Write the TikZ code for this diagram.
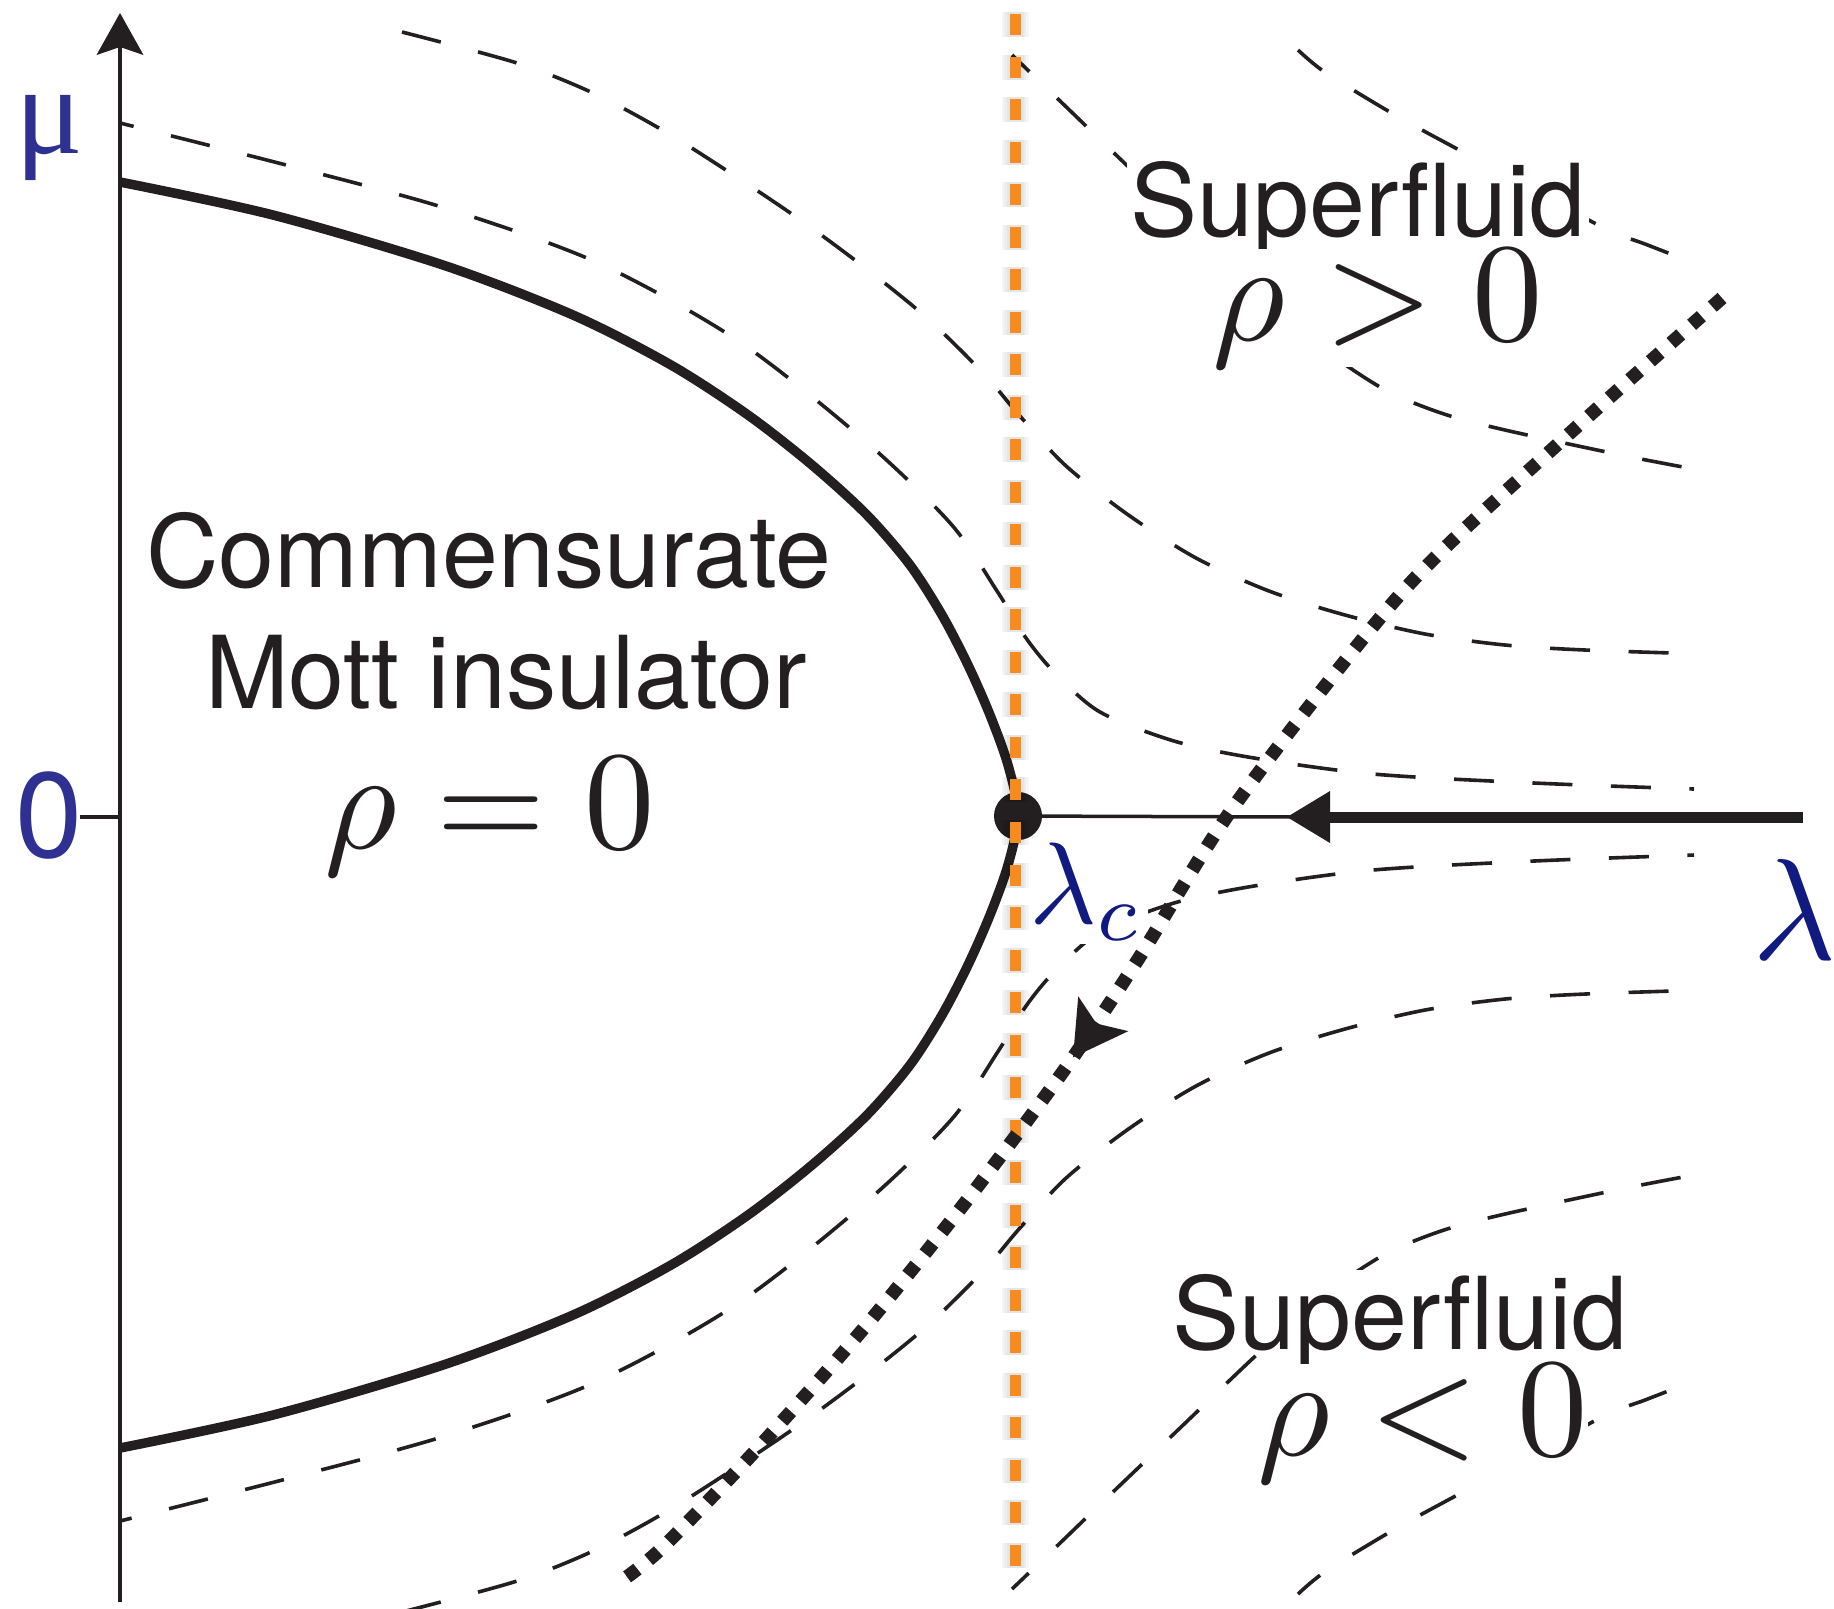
\documentclass[tikz,border=0pt]{standalone}
\usepackage{graphicx}
\usepackage{fontspec}
\newfontfamily\herosfont{TeX Gyre Heros}[Ligatures=NoCommon]
\newfontfamily\greekserif{Liberation Serif}
\usetikzlibrary{arrows.meta,decorations.markings}
\definecolor{inkblack}{RGB}{35,31,32}
\definecolor{axisblue}{RGB}{46,49,146}
\definecolor{lamblue}{RGB}{16,26,128}
\definecolor{mottorange}{RGB}{247,139,31}
\tikzset{
  flowline/.style={draw=inkblack, line width=0.036cm, dash pattern=on 0.40cm off 0.385cm},
  bndline/.style={draw=inkblack, line width=0.095cm},
  thinline/.style={draw=inkblack, line width=0.035cm},
  sflabel/.style={font=\herosfont\fontsize{28.6pt}{30pt}\selectfont, text=inkblack, inner sep=1pt, anchor=base},
  mathlabel/.style={text=inkblack, inner sep=1pt, anchor=base},
  masked/.style={fill=white},
  dotline/.style={draw=inkblack, line width=0.135cm, dash pattern=on 0.13cm off 0.145cm},
  orangedash/.style={draw=mottorange, line width=0.11cm, dash pattern=on 0.21cm off 0.215cm},
  glowdash/.style={draw=black, line width=#1, dash pattern=on 0.25cm off 0.175cm, opacity=0.035},
}
\begin{document}
\begin{tikzpicture}[x=0.01cm,y=-0.01cm]
\useasboundingbox (0,0) rectangle (1834,1608);

% ---- flow lines (upper half)
\draw[flowline, dash phase=0.26cm] plot[smooth] coordinates {(120,123) (290,166) (445,208) (596,262) (737,340) (864,440) (951,524) (997,591) (1026,638) (1055,673) (1100,712) (1174,741) (1254,758) (1373,774) (1534,783) (1694,789)};
\draw[flowline] plot[smooth] coordinates {(402,32) (517,63) (593,93) (664,131) (732,174) (799,219) (864,267) (927,318) (984,374) (1019,415) (1065,465) (1127,514) (1196,558) (1269,591) (1345,615) (1425,634) (1505,645) (1585,650) (1705,654)};
\draw[flowline, dash phase=0.16cm] plot[smooth] coordinates {(1012,55) (1058,99) (1115,154) (1180,216) (1250,283) (1305,333) (1340,361) (1389,392) (1444,414) (1505,430) (1621,455) (1699,470)};
\draw[flowline, dash phase=0.09cm] plot[smooth] coordinates {(1298,50) (1326,73) (1395,115) (1461,151) (1530,188) (1606,229) (1645,244) (1681,258)};
% ---- flow lines (lower half)
\draw[flowline, dash phase=0.28cm] plot[smooth] coordinates {(120,1521) (290,1478) (445,1436) (596,1382) (737,1304) (864,1204) (951,1120) (997,1053) (1026,1006) (1055,971) (1100,932) (1174,903) (1254,886) (1373,870) (1534,861) (1694,855)};
\draw[flowline] plot[smooth] coordinates {(402,1612) (517,1581) (593,1551) (664,1513) (732,1470) (799,1425) (864,1377) (927,1326) (984,1270) (1019,1229) (1065,1179) (1127,1130) (1196,1086) (1269,1053) (1345,1029) (1425,1010) (1505,999) (1585,994) (1705,990)};
\draw[flowline, dash phase=0.17cm] plot[smooth] coordinates {(1012,1589) (1058,1545) (1115,1490) (1180,1428) (1250,1361) (1305,1311) (1340,1283) (1389,1252) (1444,1230) (1505,1214) (1621,1189) (1699,1174)};
\draw[flowline, dash phase=0.11cm] plot[smooth] coordinates {(1298,1594) (1326,1571) (1395,1529) (1461,1493) (1530,1456) (1606,1415) (1645,1400) (1681,1386)};

% ---- phase boundary
\draw[bndline] plot[smooth] coordinates {(120,182) (273,215) (443,265) (573,315) (671,365) (748,415) (812,465) (867,515) (910,565) (942,615) (968,665) (990,715) (1008,765) (1018,815) (1008,865) (990,915) (968,965) (942,1015) (910,1065) (867,1115) (812,1165) (748,1215) (671,1265) (573,1315) (443,1365) (273,1415) (120,1448)};

% ---- axis and tick
\coordinate (axbot) at (120,1602);
\coordinate (axtop) at (120,13);
\draw[draw=inkblack, line width=0.04cm, -{Stealth[length=0.42cm, width=0.47cm, inset=0.08cm, line width=0pt]}] (axbot) -- (axtop);
\coordinate (tickl) at (80,817);
\coordinate (tickr) at (120,817);
\draw[thinline] (tickl) -- (tickr);

% ---- lambda axis arrow and fixed point
\node[circle, fill=inkblack, minimum size=0.48cm, inner sep=0pt] (fixpt) at (1018,816) {};
\coordinate (arrowtip) at (1287,817);
\coordinate (lamend) at (1803,817);
\draw[thinline] (fixpt.center) -- (1300,817);
\draw[draw=inkblack, line width=0.11cm, -{Triangle[length=0.43cm, width=0.52cm, line width=0pt]}] (lamend) -- (arrowtip);

% ---- labels
\node[font=\greekserif\fontsize{36pt}{36pt}\selectfont, text=axisblue, anchor=base, inner sep=0pt] (mulabel) at (49,153) {μ};
\node[font=\herosfont\fontsize{34.4pt}{35pt}\selectfont, text=axisblue, anchor=base, inner sep=0pt] (zerolabel) at (49,857) {0};
\node[text=lamblue, anchor=base, inner sep=0pt] (lamlabel) at (1795,959) {\scalebox{4.1}{$\lambda$}};
\node[text=lamblue, anchor=base west, fill=white, inner sep=1pt] (lamc) at (1025,923) {\scalebox{3.3}{$\lambda_c$}};

\node[sflabel] (commtext) at (489,587) {Commensurate};
\node[sflabel] (motttext) at (506,708) {Mott insulator};
\node[mathlabel] (rhozero) at (490,848) {\scalebox{4}{$\rho = 0$}};
\node[sflabel, masked, text depth=0pt] (sftop) at (1358,236) {Superfluid};
\node[mathlabel, masked, inner sep=0pt] (rhopos) at (1378,340) {\scalebox{4}{$\rho > 0$}};
\node[sflabel, masked, text depth=0pt] (sfbot) at (1400,1349) {Superfluid};
\node[mathlabel, masked, inner sep=0pt] (rhoneg) at (1423,1455) {\scalebox{4}{$\rho < 0$}};

% ---- critical line (orange) with soft glow
\coordinate (glowtop) at (1015,12);
\coordinate (glowbot) at (1015,1574);
\draw[glowdash=0.27cm] (glowtop) -- (glowbot);
\draw[glowdash=0.22cm] (glowtop) -- (glowbot);
\draw[glowdash=0.17cm] (glowtop) -- (glowbot);
\coordinate (otop) at (1015,14);
\coordinate (obot) at (1015,1572);
\draw[orangedash] (otop) -- (obot);

% ---- separatrix (dotted) with arrow
\draw[dotline, postaction={decorate}, decoration={markings, mark=at position 0.593 with {\arrow{Stealth[length=0.53cm, width=0.61cm, inset=0.12cm, line width=0pt]}}}]
  plot[smooth] coordinates {(1722,298) (1559,443) (1404,590) (1237,802) (1137,961) (1062,1073) (964,1204) (864,1328) (757,1449) (664,1546) (624,1579)};
\end{tikzpicture}
\end{document}
